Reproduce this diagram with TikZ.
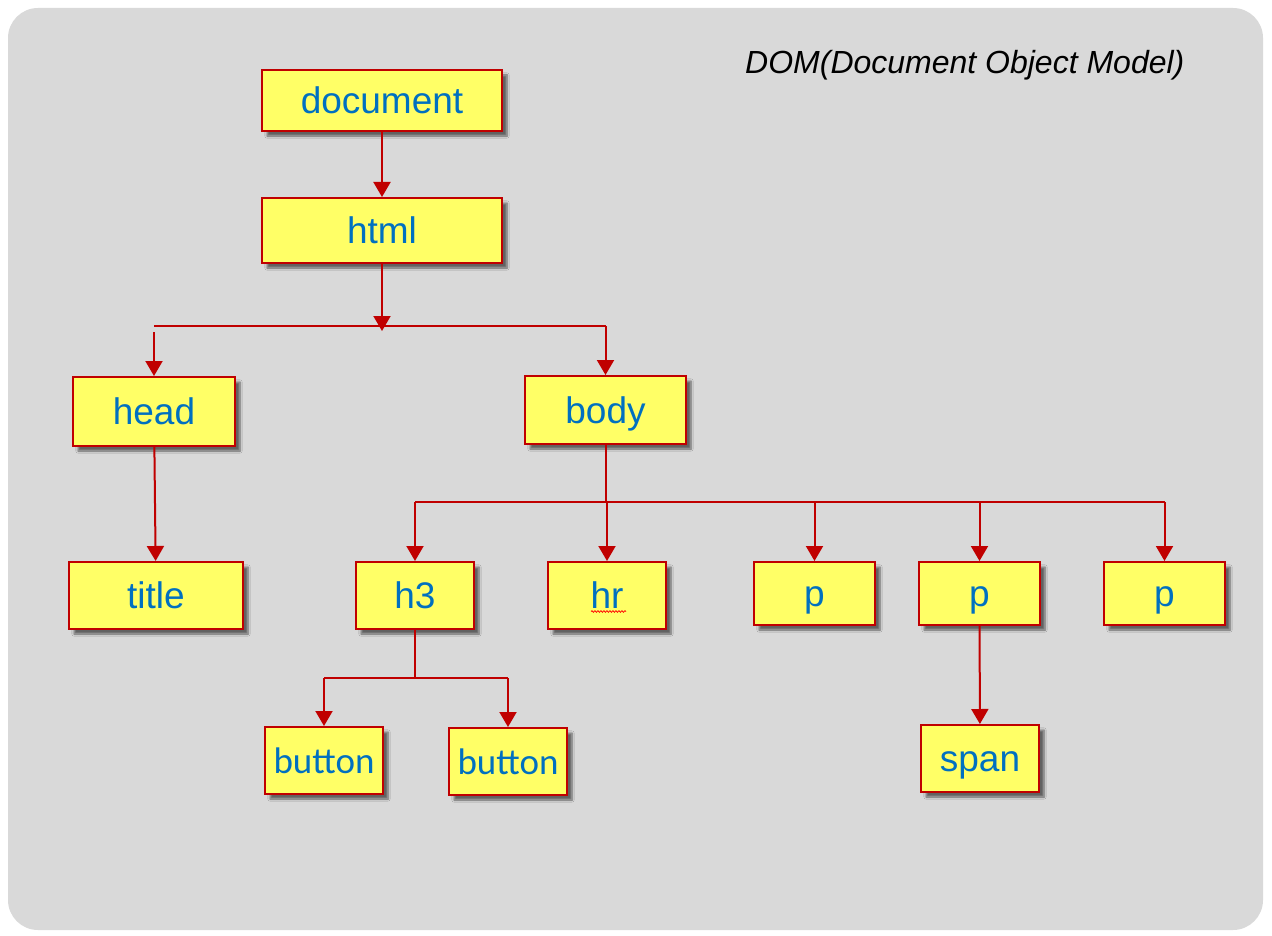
\documentclass[tikz,border=0pt]{standalone}
\usepackage{fontspec}
\setmainfont{Liberation Sans}
\newfontfamily\calibfont{Carlito}
\usetikzlibrary{arrows.meta,shadows.blur,decorations.pathmorphing}
\definecolor{bgcol}{HTML}{D9D9D9}
\definecolor{boxred}{HTML}{C00000}
\definecolor{boxfill}{HTML}{FFFF66}
\definecolor{txtblue}{HTML}{0070C0}
\tikzset{
 domnode/.style={draw=boxred, line width=2pt, fill=boxfill, text=txtblue,
   font=\fontsize{37}{40}\selectfont, inner sep=0pt, text height=26pt, text depth=0pt,
   blur shadow={shadow xshift=5pt, shadow yshift=-5pt, shadow blur steps=6, shadow opacity=55}},
 conn/.style={draw=boxred, line width=2pt},
 arr/.style={conn, -{Triangle[width=17pt,length=15pt]}},
}
\begin{document}
\begin{tikzpicture}[x=1pt,y=-1pt]
\useasboundingbox (0,0) rectangle (1272,936);
\fill[white] (0,0) rectangle (1272,936);
\fill[bgcol, rounded corners=30pt] (8,8) rectangle (1263,930);

\node[anchor=base west, inner sep=0pt, font=\fontsize{32}{36}\selectfont\itshape] (ttl) at (745,74) {DOM(Document Object Model)};

\node[domnode, minimum width=240pt, minimum height=61pt] (document) at (382,100.5) {document};
\node[domnode, minimum width=240pt, minimum height=65pt] (html) at (382,230.5) {html};
\node[domnode, minimum width=162pt, minimum height=69pt] (head) at (154,411.5) {head};
\node[domnode, minimum width=161pt, minimum height=68pt] (body) at (605.5,410) {body};
\node[domnode, minimum width=174pt, minimum height=67pt] (title) at (156,595.5) {title};
\node[domnode, minimum width=118pt, minimum height=67pt] (h3) at (415,595.5) {h3};
\node[domnode, minimum width=118pt, minimum height=67pt] (nhr) at (607,595.5) {hr};
\node[domnode, minimum width=121pt, minimum height=63pt] (p1) at (814.5,593.5) {p};
\node[domnode, minimum width=121pt, minimum height=63pt] (p2) at (979.5,593.5) {p};
\node[domnode, minimum width=121pt, minimum height=63pt] (p3) at (1164.5,593.5) {p};
\node[domnode, minimum width=118pt, minimum height=67pt, font=\calibfont\fontsize{37}{40}\selectfont] (btn1) at (324,760.5) {button};
\node[domnode, minimum width=118pt, minimum height=67pt, font=\calibfont\fontsize{37}{40}\selectfont] (btn2) at (508,761.5) {button};
\node[domnode, minimum width=118pt, minimum height=67pt] (span) at (980,758.5) {span};

% spell-check squiggle under hr
\draw[red, line width=0.7pt, decorate, decoration={snake, amplitude=0.9pt, segment length=3pt}] (591,611.5) -- (626,611.5);

% document -> html
\draw[arr] (document) -- (html);

% html -> head, body
\coordinate (jt) at (382,331);
\coordinate (jl) at (154,326);
\coordinate (jr) at (605.5,326);
\coordinate (hs) at (154,332);
\draw[arr] (html) -- (jt);
\draw[conn] (jl) -- (jr);
\draw[arr] (jr) -- (body);
\draw[arr] (hs) -- (head);

% head -> title
\draw[arr] (head) -- (title);

% body -> children
\coordinate (bj) at (605.5,502);
\coordinate (bl) at (415,502);
\coordinate (bhr) at (607,502);
\coordinate (bp1) at (814.5,502);
\coordinate (bp2) at (979.5,502);
\coordinate (br) at (1164.5,502);
\draw[conn] (body) -- (bj);
\draw[conn] (bl) -- (br);
\draw[arr] (bl) -- (h3);
\draw[arr] (bhr) -- (nhr);
\draw[arr] (bp1) -- (p1);
\draw[arr] (bp2) -- (p2);
\draw[arr] (br) -- (p3);

% h3 -> buttons
\coordinate (hj) at (415,678);
\coordinate (hl) at (324,678);
\coordinate (hrr) at (508,678);
\draw[conn] (h3) -- (hj);
\draw[conn] (hl) -- (hrr);
\draw[arr] (hl) -- (btn1);
\draw[arr] (hrr) -- (btn2);

% p -> span
\draw[arr] (p2) -- (span);
\end{tikzpicture}
\end{document}
